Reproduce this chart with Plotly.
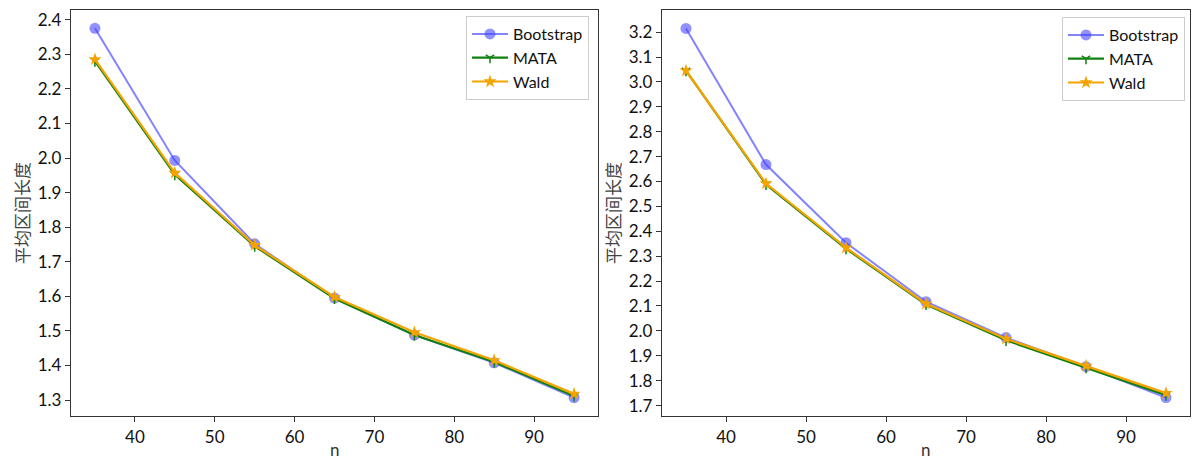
import plotly.graph_objects as go
from plotly.subplots import make_subplots

n_values = [35, 45, 55, 65, 75, 85, 95]

left_bootstrap = [2.375, 1.993, 1.752, 1.595, 1.488, 1.408, 1.307]
left_mata = [2.280, 1.952, 1.745, 1.594, 1.488, 1.410, 1.312]
left_wald = [2.285, 1.957, 1.748, 1.598, 1.496, 1.415, 1.318]

right_bootstrap = [3.215, 2.668, 2.354, 2.117, 1.973, 1.856, 1.732]
right_mata = [3.045, 2.588, 2.330, 2.106, 1.962, 1.852, 1.742]
right_wald = [3.045, 2.592, 2.334, 2.109, 1.968, 1.860, 1.750]

x_ticks = [40, 50, 60, 70, 80, 90]
left_y_ticks = [1.3, 1.4, 1.5, 1.6, 1.7, 1.8, 1.9, 2.0, 2.1, 2.2, 2.3, 2.4]
right_y_ticks = [1.7, 1.8, 1.9, 2.0, 2.1, 2.2, 2.3, 2.4, 2.5, 2.6, 2.7, 2.8, 2.9, 3.0, 3.1, 3.2]

series_names = ["Bootstrap", "MATA", "Wald"]
x_title = "n"
y_title = "平均区间长度"

fig = make_subplots(rows=1, cols=2)

styles = {
    "Bootstrap": dict(line=dict(color="rgba(90,90,255,0.75)", width=2),
                      marker=dict(symbol="circle", size=11, color="rgba(70,70,255,0.6)",
                                  line=dict(width=0))),
    "MATA": dict(line=dict(color="#108010", width=2.2),
                 marker=dict(symbol="y-down", size=7, color="#108010",
                             line=dict(width=1.5, color="#108010"))),
    "Wald": dict(line=dict(color="#f5a300", width=2.2),
                 marker=dict(symbol="star", size=10, color="#f5a300",
                             line=dict(width=0))),
}

for col, data in [(1, [left_bootstrap, left_mata, left_wald]),
                  (2, [right_bootstrap, right_mata, right_wald])]:
    for name, ys in zip(series_names, data):
        st = styles[name]
        fig.add_trace(go.Scatter(x=n_values, y=ys, mode="lines+markers", name=name,
                                 line=st["line"], marker=st["marker"],
                                 legend="legend" if col == 1 else "legend2",
                                 showlegend=True),
                      row=1, col=col)

tick_font = dict(family="Lato, 'Open Sans', sans-serif", size=17, color="#111")
title_font = dict(family="'Noto Sans CJK SC', sans-serif", size=17, color="#444")

axis_common = dict(showgrid=False, zeroline=False, showline=True, linecolor="#333",
                   linewidth=1.3, mirror=True, ticks="outside", ticklen=5,
                   tickcolor="#333", tickwidth=1.2, tickfont=tick_font, automargin=False)

fig.update_xaxes(**axis_common, range=[32, 98], tickvals=x_ticks)
fig.update_yaxes(**axis_common)
fig.update_yaxes(range=[1.254, 2.428], tickvals=left_y_ticks,
                 ticktext=[f"{v:.1f}" for v in left_y_ticks],
                 title=dict(text=y_title, font=title_font, standoff=3), row=1, col=1)
fig.update_yaxes(range=[1.658, 3.289], tickvals=right_y_ticks,
                 ticktext=[f"{v:.1f}" for v in right_y_ticks],
                 title=dict(text=y_title, font=title_font, standoff=3), row=1, col=2)

for xref in ["x domain", "x2 domain"]:
    fig.add_annotation(text=x_title, xref=xref, yref="paper", x=0.5, y=0,
                       xanchor="center", yanchor="bottom", showarrow=False,
                       font=dict(family="Lato, sans-serif", size=17, color="#333"))

legend_font = dict(family="Lato, sans-serif", size=16, color="#111")
fig.update_layout(
    width=1192, height=462,
    margin=dict(l=0, r=0, t=0, b=0, autoexpand=False),
    plot_bgcolor="white", paper_bgcolor="white",
    xaxis=dict(domain=[71/1192, 598/1192]),
    xaxis2=dict(domain=[662/1192, 1190/1192]),
    yaxis=dict(domain=[1-416/462, 1-10/462]),
    yaxis2=dict(domain=[1-416/462, 1-10/462]),
    legend=dict(x=589/1192, y=1-16/462, xanchor="right", yanchor="top",
                bgcolor="rgba(255,255,255,0.9)", bordercolor="#ccc", borderwidth=1,
                font=legend_font, tracegroupgap=0, itemwidth=36),
    legend2=dict(x=1185/1192, y=1-17/462, xanchor="right", yanchor="top",
                 bgcolor="rgba(255,255,255,0.9)", bordercolor="#ccc", borderwidth=1,
                 font=legend_font, tracegroupgap=0, itemwidth=36),
)

fig.write_html("out.html")
